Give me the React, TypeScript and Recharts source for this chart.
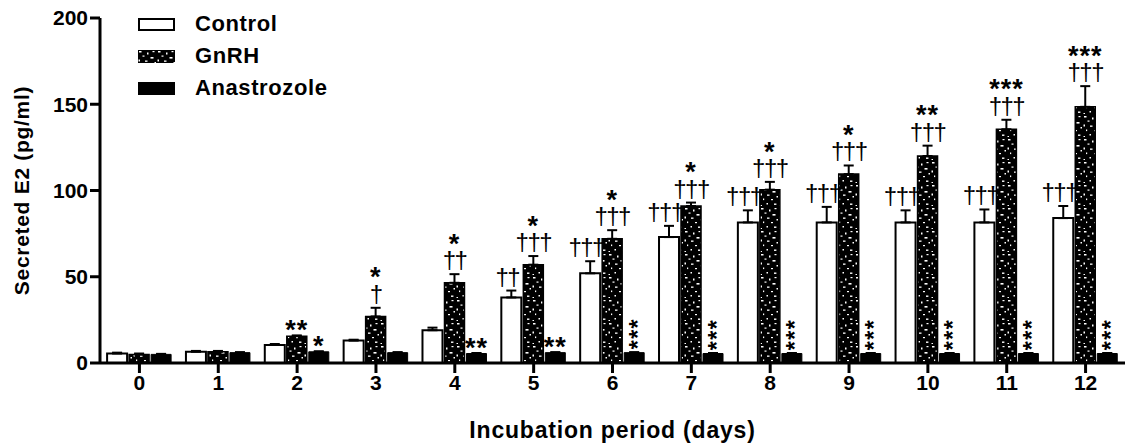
import { BarChart, Bar, XAxis, YAxis, ErrorBar, LabelList, Label, Legend } from "recharts";

const days = ["0", "1", "2", "3", "4", "5", "6", "7", "8", "9", "10", "11", "12"];

const control = [5.5, 6.5, 10.5, 13, 19, 38, 52, 73, 81.5, 81.5, 81.5, 81.5, 84];
const controlErr = [0.5, 0.5, 0.5, 0.5, 1.5, 4, 7, 6.5, 7, 9, 7, 7.5, 7];
const gnrh = [5, 6.5, 15.5, 27, 46.5, 57, 72, 91, 100.5, 109.5, 120, 135.5, 148.5];
const gnrhErr = [0.5, 0.5, 0.5, 5, 5, 5, 5, 2, 4.5, 5, 6, 5.5, 12];
const anastrozole = [5, 6, 6.5, 6, 5.5, 6, 6, 5.5, 5.5, 5.5, 5.5, 5.5, 5.5];
const anastrozoleErr = [0.3, 0.3, 0.3, 0.3, 0.3, 0.3, 0.3, 0.3, 0.3, 0.3, 0.3, 0.3, 0.3];

// significance marks
const controlDaggers = ["", "", "", "", "", "††", "†††", "†††", "†††", "†††", "†††", "†††", "†††"];
const gnrhDaggers = ["", "", "", "†", "††", "†††", "†††", "†††", "†††", "†††", "†††", "†††", "†††"];
const gnrhStars = ["", "", "**", "*", "*", "*", "*", "*", "*", "*", "**", "***", "***"];
const anastrozoleStars = ["", "", "*", "", "**", "**", "***", "***", "***", "***", "***", "***", "***"];

const yTicks = [0, 50, 100, 150, 200];
const seriesNames = ["Control", "GnRH", "Anastrozole"];

const FONT = '"Liberation Sans", Arial, Helvetica, sans-serif';

const rows = days.map((d, i) => ({
  day: d,
  control: control[i],
  gnrh: gnrh[i],
  anastrozole: anastrozole[i],
  controlErr: [0, controlErr[i]],
  gnrhErr: [0, gnrhErr[i]],
  anastrozoleErr: [0, anastrozoleErr[i]],
}));

const DAGGER_FS = 24;
const STAR_FS = 27;
const STACK_FS = 23;

function makeMarks(
  errs: number[],
  daggers: string[],
  stars: string[],
  shift: number,
  stackStars: boolean,
) {
  return (props: any) => {
    const { x, y, width, height, value, index } = props;
    if (index == null || !value) return null;
    const d = daggers[index] || "";
    const s = stars[index] || "";
    if (!d && !s) return null;
    const ppu = height / value;
    const top = y - (errs[index] || 0) * ppu;
    const cx = x + width / 2 + shift;
    const out: any[] = [];
    let starCenter = top - 12;
    if (d) {
      const base = top - 6;
      out.push(
        <text key="d" x={cx} y={base} textAnchor="middle" fontFamily={FONT} fontSize={DAGGER_FS} fill="#000" letterSpacing={-1.5}>
          {d}
        </text>,
      );
      starCenter = base - 0.72 * DAGGER_FS - 14;
    }
    if (s) {
      if (stackStars && s.length === 3) {
        // vertical column of stars: one text turned on its side
        out.push(
          <g key="s" transform={`translate(${cx - 2},${top - 18.5}) rotate(-90)`}>
            <text x={0} y={0.59 * STACK_FS} textAnchor="middle" fontFamily={FONT} fontWeight="bold" fontSize={STACK_FS} fill="#000" letterSpacing={1.5}>
              {s}
            </text>
          </g>,
        );
      } else {
        out.push(
          <text key="s" x={cx} y={starCenter + 0.59 * STAR_FS} textAnchor="middle" fontFamily={FONT} fontWeight="bold" fontSize={STAR_FS} fill="#000" letterSpacing={1}>
            {s}
          </text>,
        );
      }
    }
    return <g>{out}</g>;
  };
}

function Speckle({ id }: { id: string }) {
  return (
    <pattern id={id} width={19} height={23} patternUnits="userSpaceOnUse">
      <rect width={19} height={23} fill="#000" />
      <rect x={1} y={1} width={2.5} height={1.5} fill="#fff" />
      <rect x={9} y={2.5} width={1.5} height={2} fill="#fff" />
      <rect x={14.5} y={1} width={2} height={1.2} fill="#fff" />
      <rect x={4.5} y={5.5} width={2} height={1.2} fill="#fff" />
      <rect x={12.5} y={7} width={3} height={1.6} fill="#fff" />
      <rect x={0.5} y={9.5} width={1.5} height={2} fill="#fff" />
      <rect x={7} y={10.5} width={2.5} height={1.3} fill="#fff" />
      <rect x={16.5} y={12} width={1.5} height={1.5} fill="#fff" />
      <rect x={3} y={14.5} width={1.2} height={1.6} fill="#fff" />
      <rect x={11} y={15} width={2} height={1.2} fill="#fff" />
      <rect x={6.5} y={19} width={1.5} height={1.5} fill="#fff" />
      <rect x={14} y={19.5} width={2.4} height={1.4} fill="#fff" />
      <rect x={0.5} y={21} width={1.5} height={1} fill="#fff" />
    </pattern>
  );
}

function LegendBox() {
  const icons = [
    <div style={{ width: 33, height: 9, border: "2px solid #000", background: "#fff" }} />,
    <svg width={37} height={13}>
      <defs>
        <Speckle id="speckle-legend" />
      </defs>
      <rect width={37} height={13} fill="url(#speckle-legend)" />
    </svg>,
    <div style={{ width: 37, height: 13, background: "#000" }} />,
  ];
  return (
    <div style={{ fontFamily: FONT, fontWeight: "bold", fontSize: 22, letterSpacing: 0.6 }}>
      {seriesNames.map((n, i) => (
        <div key={n} style={{ display: "flex", alignItems: "center", height: 32 }}>
          <div style={{ width: 57, display: "flex" }}>{icons[i]}</div>
          <span>{n}</span>
        </div>
      ))}
    </div>
  );
}

export default function App() {
  const tickStyle = { fill: "#000", fontFamily: FONT, fontWeight: "bold", fontSize: 21 } as any;
  return (
    <div style={{ position: "absolute", left: 0, top: 0, background: "#fff" }}>
      <BarChart
        width={1137}
        height={447}
        data={rows}
        margin={{ top: 18, right: 12, bottom: 0, left: 0 }}
        barCategoryGap="9%"
        barGap={2}
      >
        <defs>
          <Speckle id="speckle" />
        </defs>
        <XAxis
          dataKey="day"
          height={84}
          tick={tickStyle}
          tickSize={10}
          tickMargin={2}
          axisLine={{ stroke: "#000", strokeWidth: 3 }}
          tickLine={{ stroke: "#000", strokeWidth: 3 }}
        >
          <Label
            value="Incubation period (days)"
            position="insideBottom"
            offset={9}
            style={{ fontFamily: FONT, fontWeight: "bold", fontSize: 23, fill: "#000", letterSpacing: 0.8 }}
          />
        </XAxis>
        <YAxis
          domain={[0, 200]}
          ticks={yTicks}
          width={100}
          tick={tickStyle}
          tickSize={10}
          tickMargin={2}
          axisLine={{ stroke: "#000", strokeWidth: 3 }}
          tickLine={{ stroke: "#000", strokeWidth: 3 }}
        >
          <Label
            value="Secreted E2 (pg/ml)"
            angle={-90}
            position="insideLeft"
            offset={22}
            style={{ fontFamily: FONT, fontWeight: "bold", fontSize: 21, fill: "#000", textAnchor: "middle", letterSpacing: 0.7 }}
          />
        </YAxis>
        <Legend
          layout="vertical"
          verticalAlign="middle"
          align="center"
          wrapperStyle={{ top: 8, left: 138, width: "auto" }}
          content={() => <LegendBox />}
        />
        <Bar dataKey="control" name="Control" fill="#fff" stroke="#000" strokeWidth={2} isAnimationActive={false}>
          <ErrorBar dataKey="controlErr" width={5} stroke="#000" strokeWidth={2} direction="y" />
          <LabelList dataKey="control" content={makeMarks(controlErr, controlDaggers, [], -4, false)} />
        </Bar>
        <Bar dataKey="gnrh" name="GnRH" fill="url(#speckle)" stroke="#000" strokeWidth={1.5} isAnimationActive={false}>
          <ErrorBar dataKey="gnrhErr" width={5} stroke="#000" strokeWidth={2} direction="y" />
          <LabelList dataKey="gnrh" content={makeMarks(gnrhErr, gnrhDaggers, gnrhStars, 0, false)} />
        </Bar>
        <Bar dataKey="anastrozole" name="Anastrozole" fill="#000" stroke="#000" strokeWidth={1} isAnimationActive={false}>
          <ErrorBar dataKey="anastrozoleErr" width={5} stroke="#000" strokeWidth={2} direction="y" />
          <LabelList dataKey="anastrozole" content={makeMarks(anastrozoleErr, [], anastrozoleStars, 0, true)} />
        </Bar>
      </BarChart>
    </div>
  );
}
